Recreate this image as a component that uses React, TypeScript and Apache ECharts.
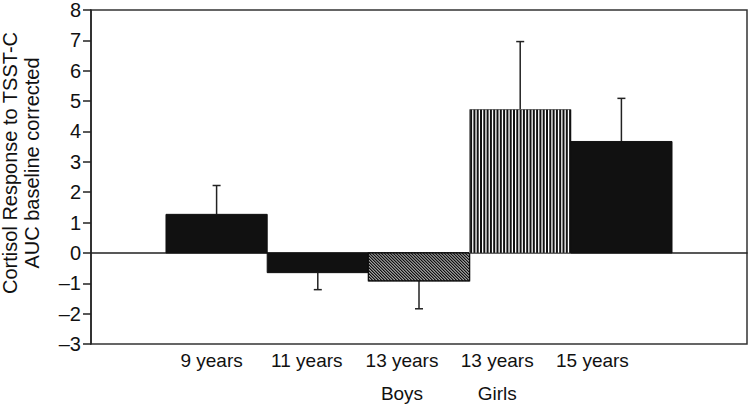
import React, { useEffect, useRef } from "react";
import * as echarts from "echarts";

const categories = ["9 years", "11 years", "13 years\nBoys", "13 years\nGirls", "15 years"];
const means = [1.27, -0.65, -0.92, 4.72, 3.67];
const errorEnds = [2.22, -1.21, -1.84, 6.96, 5.09];
const yTicks = { min: -3, max: 8, interval: 1 };

const FONT = "'Liberation Sans', Arial, Helvetica, sans-serif";

export default function App() {
  const ref = useRef<HTMLDivElement>(null);
  useEffect(() => {
    document.body.style.margin = "0";
    const chart = echarts.init(ref.current!, null, { renderer: "svg" });
    const data = means.map((m, i) => [i, m, errorEnds[i]]);
    const renderItem = (params: any, api: any) => {
      const i = api.value(0);
      const v = api.value(1);
      const e = api.value(2);
      const p0 = api.coord([i, 0]);
      const p1 = api.coord([i + 1, v]);
      const x0 = p0[0];
      const w = p1[0] - p0[0];
      const y0 = Math.min(p0[1], p1[1]);
      const h = Math.abs(p1[1] - p0[1]);
      const children: any[] = [];
      const kind = i === 2 ? "hatch" : i === 3 ? "stripes" : "solid";
      const c1 = api.coord([i + 0.5, v]);
      const c2 = api.coord([i + 0.5, e]);
      children.push({
        type: "line",
        shape: { x1: c1[0], y1: c1[1], x2: c2[0], y2: c2[1] },
        style: { stroke: "#222", lineWidth: 1.5 },
      });
      children.push({
        type: "line",
        shape: { x1: c2[0] - 4, y1: c2[1], x2: c2[0] + 4, y2: c2[1] },
        style: { stroke: "#222", lineWidth: 1.5 },
      });
      children.push({
        type: "rect",
        shape: { x: x0, y: y0, width: w, height: h },
        style: { fill: kind === "solid" ? "#111" : "#fff", stroke: kind === "stripes" ? "#777" : "#111", lineWidth: 1 },
      });
      if (kind === "stripes") {
        for (let xx = x0 + 1.5; xx < x0 + w - 0.5; xx += 3.3) {
          children.push({
            type: "line",
            shape: { x1: xx, y1: y0, x2: xx, y2: y0 + h },
            style: { stroke: "#111", lineWidth: 2 },
          });
        }
      } else if (kind === "hatch") {
        const s = 3;
        for (let k = -h + s / 2; k < w; k += s) {
          let sx, sy, t;
          if (k >= 0) {
            sx = x0 + k; sy = y0; t = Math.min(w - k, h);
          } else {
            sx = x0; sy = y0 - k; t = Math.min(w, h + k);
          }
          children.push({
            type: "line",
            shape: { x1: sx, y1: sy, x2: sx + t, y2: sy + t },
            style: { stroke: "#111", lineWidth: 1.5 },
          });
        }
        children.push({
          type: "rect",
          shape: { x: x0, y: y0, width: w, height: h },
          style: { fill: "none", stroke: "#111", lineWidth: 1.2 },
        });
      }
      return { type: "group", children };
    };
    chart.setOption({
      animation: false,
      grid: [
        { left: 91, top: 9, width: 656, height: 335, show: true, borderColor: "#333", borderWidth: 1.5, backgroundColor: "transparent" },
        { left: 164, top: 9, width: 476, height: 335, show: false },
      ],
      xAxis: [
        {
          type: "value",
          gridIndex: 0,
          min: -0.741,
          max: 5.741,
          axisLine: { show: true, onZero: true, lineStyle: { color: "#222", width: 1.5 } },
          axisTick: { show: false },
          axisLabel: { show: false },
          splitLine: { show: false },
        },
        {
          type: "category",
          gridIndex: 1,
          data: categories,
          axisLine: { show: false },
          axisTick: { show: false },
          axisLabel: { fontSize: 19, color: "#111", fontFamily: FONT, margin: 8, lineHeight: 33, interval: 0 },
        },
      ],
      yAxis: [
        {
          type: "value",
          gridIndex: 0,
          min: yTicks.min,
          max: yTicks.max,
          interval: yTicks.interval,
          axisLine: { show: true, onZero: false, lineStyle: { color: "#222", width: 1.5 } },
          axisTick: { show: true, inside: false, length: 8, lineStyle: { color: "#222", width: 1.5 } },
          axisLabel: {
            fontSize: 20,
            color: "#111",
            fontFamily: FONT,
            margin: 10,
            formatter: (v: number) => (v < 0 ? "\u2013" + Math.abs(v) : String(v)),
          },
          splitLine: { show: false },
        },
        { type: "value", gridIndex: 1, show: false, min: 0, max: 1 },
      ],
      graphic: [
        {
          type: "text",
          x: 21,
          y: 163,
          rotation: Math.PI / 2,
          style: {
            text: "Cortisol Response to TSST-C\nAUC baseline corrected",
            fontSize: 20,
            fontFamily: FONT,
            fill: "#111",
            align: "center",
            verticalAlign: "middle",
            lineHeight: 22,
          },
        },
      ],
      series: [
        {
          type: "custom",
          xAxisIndex: 0,
          yAxisIndex: 0,
          renderItem,
          data,
          encode: { x: 0, y: [1, 2] },
        },
      ],
    });
    return () => chart.dispose();
  }, []);
  return <div ref={ref} style={{ width: 750, height: 410 }} />;
}
